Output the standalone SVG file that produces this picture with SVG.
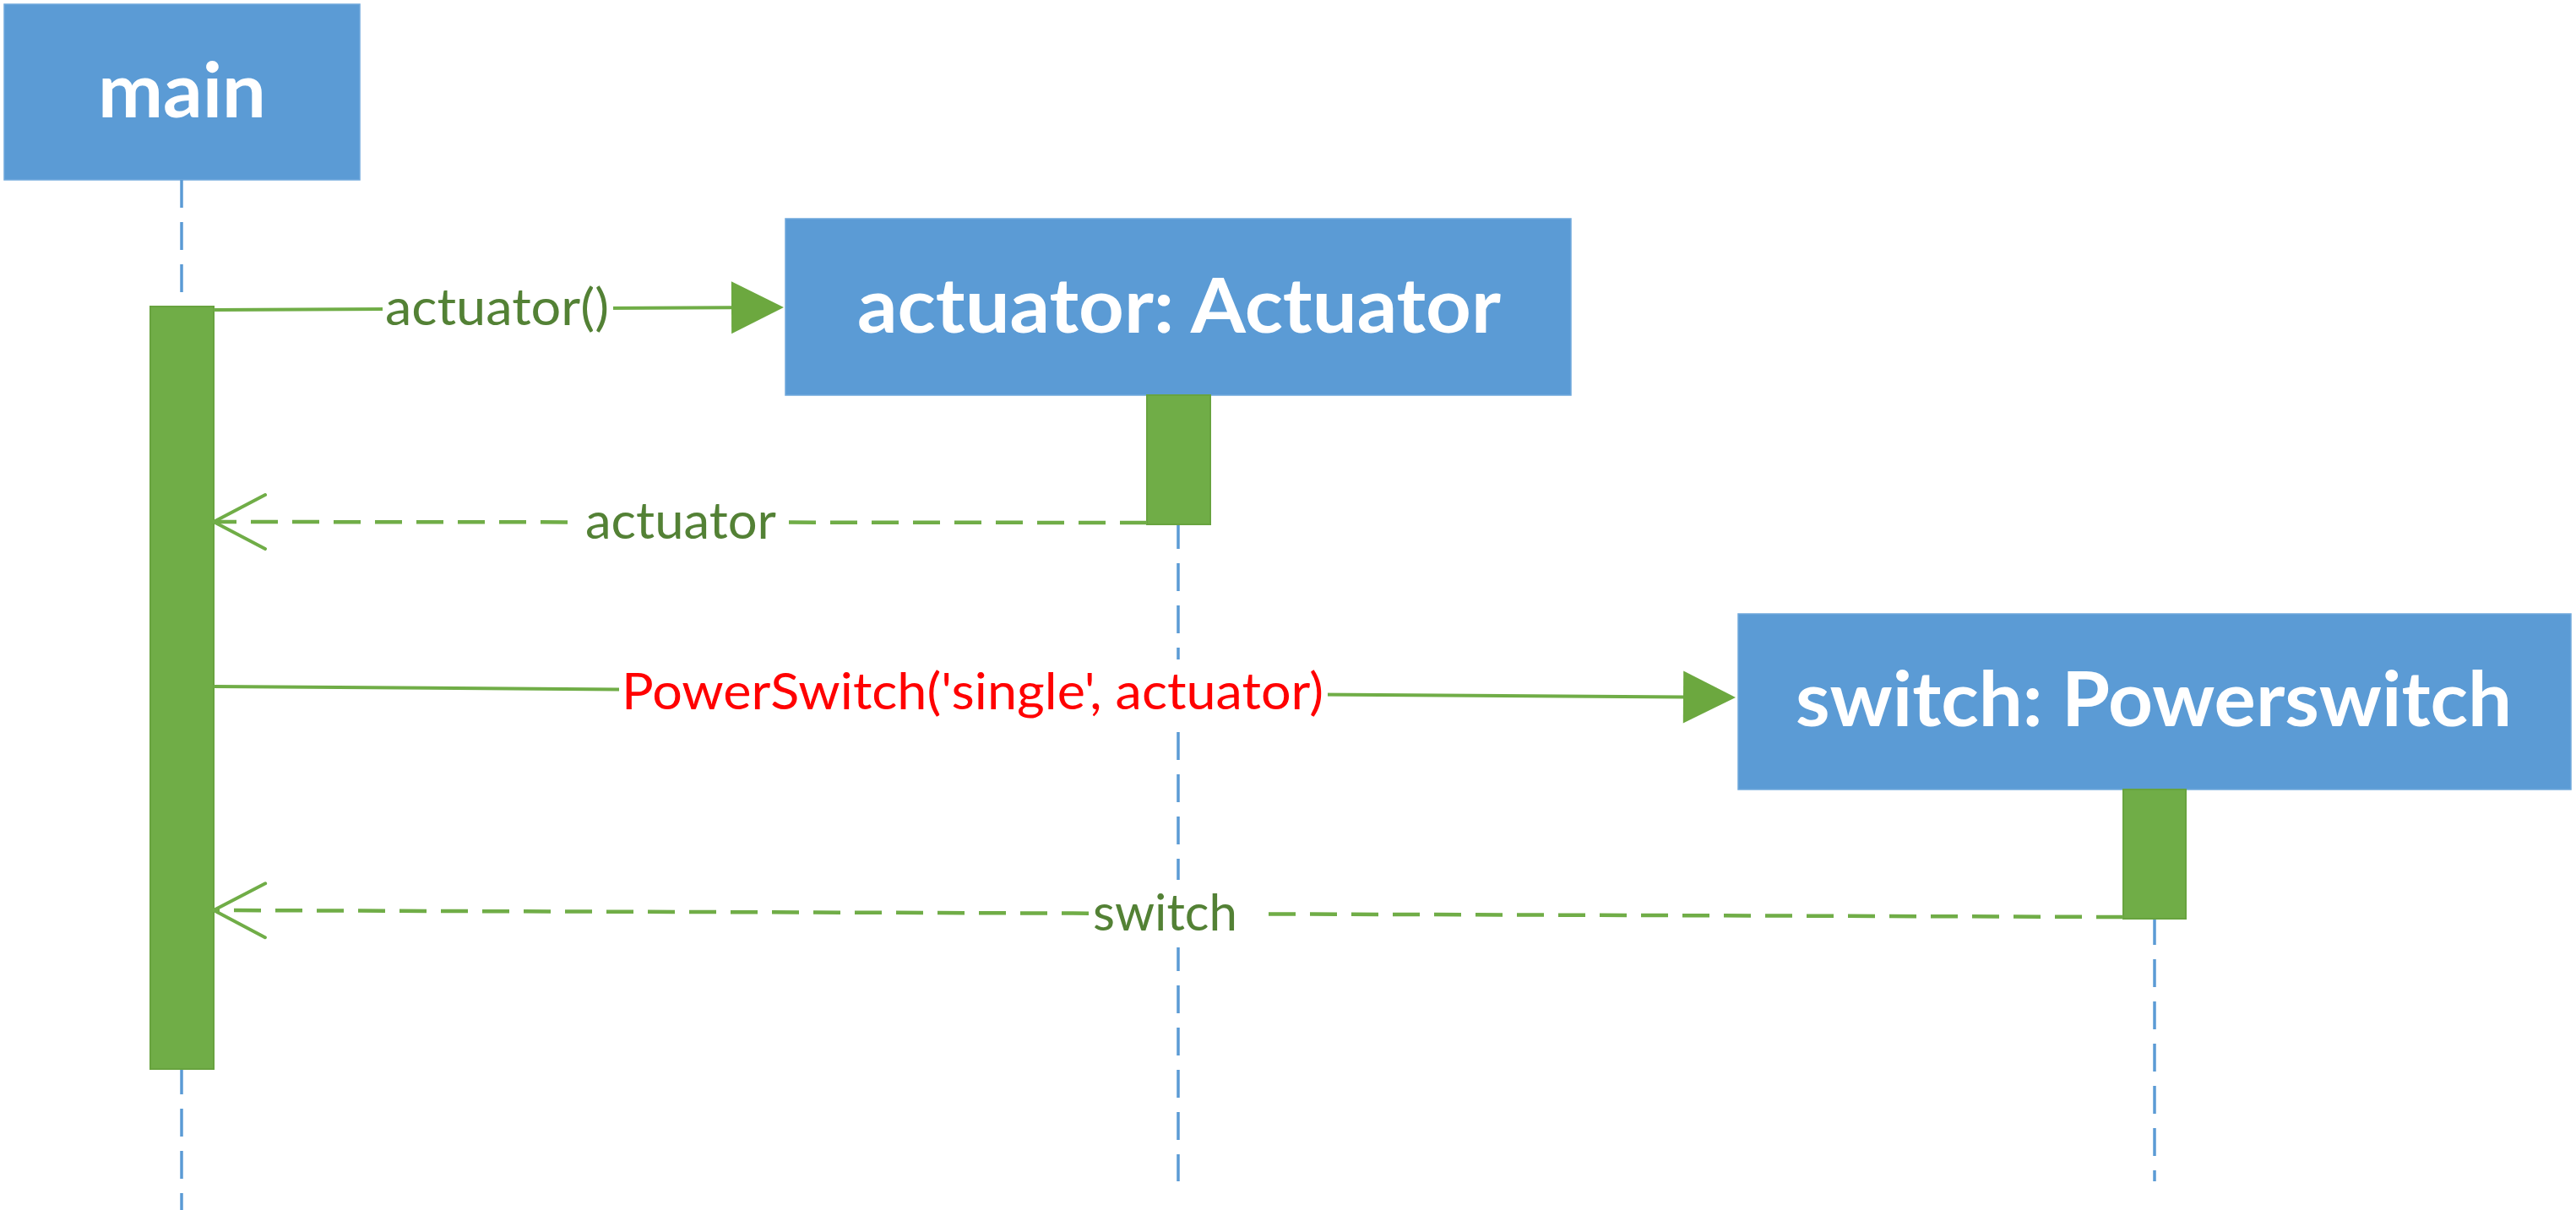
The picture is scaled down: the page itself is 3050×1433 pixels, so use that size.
<svg xmlns="http://www.w3.org/2000/svg" width="3050" height="1433" viewBox="0 0 3050 1433">
<style>
.box{fill:#5B9BD5;stroke:#6FA8DC;stroke-width:1.5}
.title{font-family:Lato,"Open Sans","Liberation Sans",sans-serif;font-weight:bold;font-size:90px;fill:#FFFFFF}
.life{stroke:#5B9BD5;stroke-width:3.5;stroke-dasharray:33 17;fill:none}
.bar{fill:#70AD47;stroke:#68A33F;stroke-width:2}
.msg{stroke:#70AD47;stroke-width:4;fill:none}
.ret{stroke:#70AD47;stroke-width:4.5;stroke-dasharray:32 17;fill:none}
.lbl{font-family:Lato,"Open Sans","Liberation Sans",sans-serif;font-size:60px;fill:#538135}
.red{fill:#FF0000}
.bg{fill:#FFFFFF}
</style>
<defs>
<marker id="solid" markerUnits="userSpaceOnUse" markerWidth="64" markerHeight="64" refX="0" refY="0" orient="auto" overflow="visible">
<path d="M0,-31 L62,0 L0,31 Z" fill="#6CA83F"/>
</marker>
<marker id="open" markerUnits="userSpaceOnUse" markerWidth="64" markerHeight="70" refX="0" refY="0" orient="auto" overflow="visible">
<path d="M-61,-32 L0,0 L-61,32" fill="none" stroke="#70AD47" stroke-width="4" stroke-linecap="round"/>
</marker>
</defs>

<g id="node-main">
<rect class="box" x="5" y="5" width="421" height="208"/>
<text class="title" x="116" y="139" textLength="199" lengthAdjust="spacingAndGlyphs">main</text>
<line class="life" x1="215" y1="213" x2="215" y2="1433"/>
<rect class="bar" x="178" y="363" width="75" height="903"/>
</g>

<g id="node-actuator">
<rect class="box" x="930" y="259" width="930" height="209"/>
<text class="title" x="1015" y="394" textLength="762" lengthAdjust="spacingAndGlyphs">actuator: Actuator</text>
<line class="life" x1="1395" y1="617" x2="1395" y2="1399"/>
<rect class="bar" x="1358" y="468" width="75" height="153"/>
</g>

<g id="node-switch">
<rect class="box" x="2058" y="727" width="986" height="208"/>
<text class="title" x="2126" y="860" textLength="848" lengthAdjust="spacingAndGlyphs">switch: Powerswitch</text>
<line class="life" x1="2551" y1="1086" x2="2551" y2="1399"/>
<rect class="bar" x="2514" y="935" width="74" height="153"/>
</g>

<g id="connectors">
<g id="msg-actuator-call">
<line class="msg" x1="253" y1="367" x2="866" y2="364.3" marker-end="url(#solid)"/>
<rect class="bg" x="453" y="335" width="273" height="65"/>
<text class="lbl" x="456" y="385" textLength="265" lengthAdjust="spacingAndGlyphs">actuator()</text>
</g>
<g id="msg-actuator-return">
<line class="ret" x1="1358" y1="619" x2="253" y2="618" marker-end="url(#open)"/>
<rect class="bg" x="689" y="592" width="238" height="60"/>
<text class="lbl" x="693" y="638" textLength="226" lengthAdjust="spacingAndGlyphs">actuator</text>
</g>
<g id="msg-powerswitch-call">
<line class="msg" x1="253" y1="813" x2="1993" y2="825.6" marker-end="url(#solid)"/>
<rect class="bg" x="733" y="781" width="839" height="86"/>
<text class="lbl red" x="736" y="840" textLength="831" lengthAdjust="spacingAndGlyphs">PowerSwitch('single', actuator)</text>
</g>
<g id="msg-switch-return">
<line class="ret" x1="2514" y1="1086" x2="253" y2="1078" marker-end="url(#open)"/>
<rect class="bg" x="1289" y="1042" width="197" height="80"/>
<text class="lbl" x="1294" y="1102" textLength="171" lengthAdjust="spacingAndGlyphs">switch</text>
</g>
</g>
</svg>
